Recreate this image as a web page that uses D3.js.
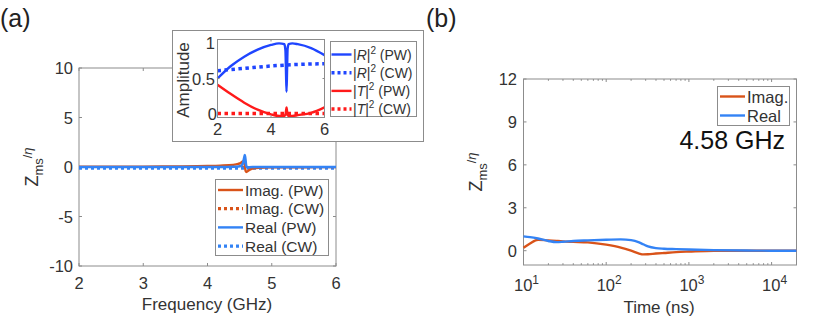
<!DOCTYPE html>
<html><head><meta charset="utf-8">
<script src="https://cdn.jsdelivr.net/npm/d3@7"></script>
<style>body{margin:0;background:#fff}text{font-family:"Liberation Sans",Arial,sans-serif;fill:#333}</style>
</head><body><svg id="c" width="831" height="319"></svg>
<script>
// ---------- data: panel (a) main ----------
const freqPW   = [2,2.5,3,3.5,4,4.2,4.4,4.48,4.52,4.55,4.57,4.58,4.59,4.6,4.62,4.65,4.7,4.8,5,5.5,6];
const imagPW   = [0.02,0.03,0.04,0.06,0.1,0.14,0.22,0.32,0.42,0.55,0.5,0.2,-0.3,-0.5,-0.45,-0.3,-0.15,-0.08,-0.04,-0.02,-0.01];
const realPW   = [0,0,0,0,0,0,0.02,0.05,0.12,0.35,0.9,1.2,0.8,0.2,-0.05,-0.02,0,0,0,0,0];
const freqCW   = [2,3,4,5,6];
const imagCW   = [-0.05,-0.05,-0.05,-0.05,-0.05];
const realCW   = [-0.12,-0.12,-0.12,-0.12,-0.12];
// ---------- data: inset ----------
const freqIn   = [2,2.5,3,3.5,4,4.3,4.5,4.54,4.56,4.58,4.6,4.62,4.66,4.8,5,5.5,6];
const rPW      = [0.5,0.66,0.78,0.87,0.93,0.95,0.94,0.86,0.6,0.33,0.6,0.88,0.94,0.95,0.94,0.89,0.8];
const tPW      = [0.42,0.3,0.19,0.1,0.04,0.02,0.02,0.04,0.08,0.13,0.08,0.03,0.02,0.02,0.03,0.06,0.13];
const freqInCW = [2,3,4,5,6];
const rCW      = [0.6,0.63,0.66,0.68,0.69];
const tCW      = [0.05,0.05,0.05,0.05,0.05];
// ---------- data: panel (b) ----------
const timeNs   = [10,12,15,20,25,30,40,60,100,150,200,250,280,320,400,500,700,1000,2000,5000,10000,20000];
const imagT    = [0.2,0.5,0.77,0.72,0.68,0.65,0.62,0.58,0.42,0.22,0.0,-0.2,-0.26,-0.25,-0.2,-0.16,-0.1,-0.06,0.0,0,0,0];
const realT    = [1.0,0.95,0.85,0.68,0.6,0.62,0.68,0.72,0.76,0.79,0.74,0.58,0.45,0.3,0.18,0.14,0.11,0.08,0.04,0.01,0.0,0.0];
const yTicksA  = [-10,-5,0,5,10];
const xTicksA  = [2,3,4,5,6];
const yTicksIn = [0,0.5,1];
const xTicksIn = [2,4,6];
const yTicksB  = [0,3,6,9,12];
const xTicksB  = [10,100,1000,10000];

const cImag="#D95319", cReal="#3383F5", cR="#1F45FF", cT="#FF1A1A", cAx="#8c8c8c";
const svg=d3.select("#c");
const FT="16.5px";

function box(g,x,y,tickLen,xt,yt,xminor){
  const [x0,x1]=x.range(),[y0,y1]=y.range();
  g.append("rect").attr("x",x0).attr("y",y1).attr("width",x1-x0).attr("height",y0-y1)
   .attr("fill","none").attr("stroke",cAx).attr("stroke-width",1);
  const tk=g.append("g").attr("stroke",cAx).attr("stroke-width",1);
  xt.concat(xminor||[]).forEach(v=>{const L=(xminor&&xminor.includes(v))?tickLen*0.6:tickLen;
    tk.append("line").attr("x1",x(v)).attr("x2",x(v)).attr("y1",y0).attr("y2",y0-L);
    tk.append("line").attr("x1",x(v)).attr("x2",x(v)).attr("y1",y1).attr("y2",y1+L);});
  yt.forEach(v=>{
    tk.append("line").attr("y1",y(v)).attr("y2",y(v)).attr("x1",x0).attr("x2",x0+tickLen);
    tk.append("line").attr("y1",y(v)).attr("y2",y(v)).attr("x1",x1).attr("x2",x1-tickLen);});
}
function path(g,xs,ys,x,y,color,w,dash){
  const line=d3.line().x(d=>x(d[0])).y(d=>y(d[1])).curve(d3.curveMonotoneX);
  const p=g.append("path").datum(xs.map((v,i)=>[v,ys[i]])).attr("d",line)
   .attr("fill","none").attr("stroke",color).attr("stroke-width",w).attr("stroke-linejoin","round");
  if(dash) p.attr("stroke-dasharray",dash);
}
function zLabel(cx,cy){
  const t=svg.append("text").attr("transform",`translate(${cx},${cy}) rotate(-90)`).attr("text-anchor","middle").style("font-size","18px");
  t.append("tspan").text("Z");
  t.append("tspan").attr("dy",5).style("font-size","13px").text("ms");
  t.append("tspan").attr("dy",-11).style("font-size","13px").text("/");
  t.append("tspan").style("font-size","13px").style("font-style","italic").text("η");
}

// ================= panel (a) =================
const xA=d3.scaleLinear().domain([2,6]).range([79,336]);
const yA=d3.scaleLinear().domain([-10,10]).range([266,68]);
const gA=svg.append("g");
box(gA,xA,yA,3,xTicksA,yTicksA);
yTicksA.forEach(v=>gA.append("text").attr("x",73).attr("y",yA(v)+6).attr("text-anchor","end").style("font-size",FT).text(v));
xTicksA.forEach(v=>gA.append("text").attr("x",xA(v)).attr("y",289).attr("text-anchor","middle").style("font-size",FT).text(v));
gA.append("text").attr("x",207).attr("y",310).attr("text-anchor","middle").style("font-size","17px").text("Frequency (GHz)");
zLabel(38,167);
path(gA,freqCW,imagCW,xA,yA,cImag,3.2,"3,3");
path(gA,freqCW,realCW,xA,yA,cReal,3.2,"3,3");
path(gA,freqPW,imagPW,xA,yA,cImag,2.4);
path(gA,freqPW,realPW,xA,yA,cReal,2.6);
// legend (a)
const lgA=gA.append("g");
lgA.append("rect").attr("x",215.5).attr("y",179.5).attr("width",113).attr("height",76).attr("fill","#fff").attr("stroke",cAx);
const legA=[["Imag. (PW)",cImag,null],["Imag. (CW)",cImag,"3,3"],["Real (PW)",cReal,null],["Real (CW)",cReal,"3,3"]];
legA.forEach((d,i)=>{const yy=190+i*18.7;
  const l=lgA.append("line").attr("x1",218).attr("x2",243).attr("y1",yy).attr("y2",yy).attr("stroke",d[1]).attr("stroke-width",d[2]?3.2:2.4);
  if(d[2]) l.attr("stroke-dasharray",d[2]);
  lgA.append("text").attr("x",245).attr("y",yy+5.5).style("font-size",'15.5px').text(d[0]);});

// ================= inset =================
const gI=svg.append("g");
gI.append("rect").attr("x",172.5).attr("y",30.5).attr("width",251).attr("height",111).attr("fill","#fff").attr("stroke",cAx);
const xI=d3.scaleLinear().domain([2,6]).range([217.5,324.5]);
const yI=d3.scaleLinear().domain([0,1]).range([117.5,39.5]);
path(gI,freqInCW,rCW,xI,yI,cR,3.5,"3.5,3.5");
path(gI,freqInCW,tCW,xI,yI,cT,3.5,"3.5,3.5");
path(gI,freqIn,rPW,xI,yI,cR,2.4);
path(gI,freqIn,tPW,xI,yI,cT,2.4);
box(gI,xI,yI,2,xTicksIn,yTicksIn);
yTicksIn.forEach(v=>gI.append("text").attr("x",v===0?217:215).attr("y",v===1?yI(v)+9:(v===0?yI(v)+2:yI(v)+6)).attr("text-anchor","end").style("font-size",FT).text(v));
xTicksIn.forEach(v=>gI.append("text").attr("x",xI(v)).attr("y",135).attr("text-anchor","middle").style("font-size",FT).text(v));
gI.append("text").attr("transform","translate(189,80) rotate(-90)").attr("text-anchor","middle").style("font-size","17px").text("Amplitude");
gI.append("rect").attr("x",330.5).attr("y",41.5).attr("width",86).attr("height",75).attr("fill","#fff").attr("stroke",cAx);
const legI=[["R","(PW)",cR,null],["R","(CW)",cR,"3,3"],["T","(PW)",cT,null],["T","(CW)",cT,"3,3"]];
legI.forEach((d,i)=>{const yy=54.5+i*18.2;
  const l=gI.append("line").attr("x1",331.5).attr("x2",351.5).attr("y1",yy).attr("y2",yy).attr("stroke",d[2]).attr("stroke-width",d[3]?3.5:2.4);
  if(d[3]) l.attr("stroke-dasharray",d[3]);
  const t=gI.append("text").attr("x",353).attr("y",yy+5).style("font-size","14px");
  t.append("tspan").text("|");
  t.append("tspan").style("font-style","italic").text(d[0]);
  t.append("tspan").text("|");
  t.append("tspan").attr("dy",-6).style("font-size","10px").text("2");
  t.append("tspan").attr("dy",6).text(" "+d[1]);});

// ================= panel (b) =================
const xB=d3.scaleLog().domain([10,20000]).range([523.5,796.5]);
const yB=d3.scaleLinear().domain([-1,12]).range([265,79]);
const gB=svg.append("g");
const minorB=[];[10,100,1000,10000].forEach(d=>{for(let k=2;k<=9;k++){if(d*k<=20000)minorB.push(d*k);}});
box(gB,xB,yB,3,xTicksB,yTicksB,minorB);
yTicksB.forEach(v=>gB.append("text").attr("x",517).attr("y",yB(v)+6).attr("text-anchor","end").style("font-size",FT).text(v));
xTicksB.forEach(v=>{const t=gB.append("text").attr("x",xB(v)+3).attr("y",291).attr("text-anchor","middle").style("font-size",FT);
  t.append("tspan").text("10");t.append("tspan").attr("dy",-7).style("font-size","12px").text(Math.round(Math.log10(v)));});
gB.append("text").attr("x",659).attr("y",313).attr("text-anchor","middle").style("font-size","17px").text("Time (ns)");
zLabel(482,172);
path(gB,timeNs,imagT,xB,yB,cImag,2.4);
path(gB,timeNs,realT,xB,yB,cReal,2.4);
gB.append("rect").attr("x",717.5).attr("y",86.5).attr("width",72).attr("height",39).attr("fill","#fff").attr("stroke",cAx);
[["Imag.",cImag],["Real",cReal]].forEach((d,i)=>{const yy=96.5+i*19;
  gB.append("line").attr("x1",720).attr("x2",745).attr("y1",yy).attr("y2",yy).attr("stroke",d[1]).attr("stroke-width",2.4);
  gB.append("text").attr("x",747).attr("y",yy+6).style("font-size","16.5px").text(d[0]);});
gB.append("text").attr("x",785).attr("y",149).attr("text-anchor","end").style("font-size","25px").style("fill","#111").text("4.58 GHz");

// panel labels
svg.append("text").attr("x",0).attr("y",27).style("font-size","25px").style("fill","#222").text("(a)");
svg.append("text").attr("x",426).attr("y",27).style("font-size","25px").style("fill","#222").text("(b)");
</script></body></html>
